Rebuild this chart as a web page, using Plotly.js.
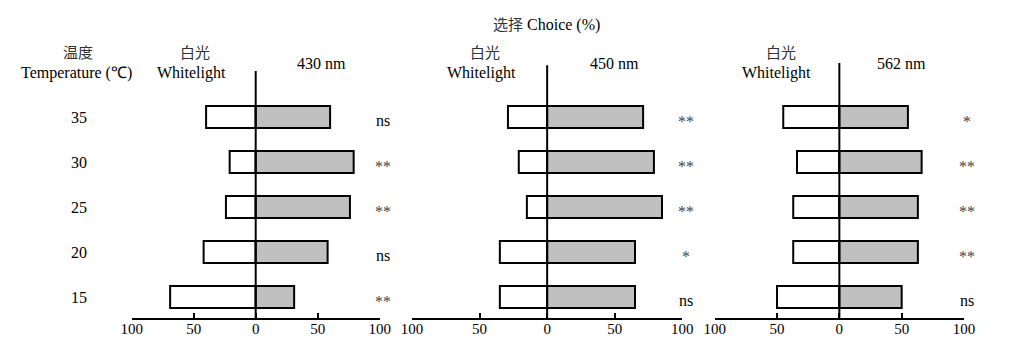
<!DOCTYPE html>
<html><head><meta charset="utf-8">
<script src="https://cdn.plot.ly/plotly-3.0.1.min.js"></script>
<style>html,body{margin:0;padding:0;background:#fff}</style>
</head><body><div id="chart" style="width:1010px;height:363px"></div>
<script>
// ---- data ----
const temperatures = ["15", "20", "25", "30", "35"];
const white430 = [69, 42, 24, 21, 40];
const light430 = [31, 58, 76, 79, 60];
const sig430 = ["**", "ns", "**", "**", "ns"];
const white450 = [35, 35, 15, 21, 29];
const light450 = [65, 65, 85, 79, 71];
const sig450 = ["ns", "*", "**", "**", "**"];
const white562 = [50, 37, 37, 34, 45];
const light562 = [50, 63, 63, 66, 55];
const sig562 = ["ns", "**", "**", "**", "*"];
const tickVals = [-100, -50, 0, 50, 100];
const tickText = ["100", "50", "0", "50", "100"];
const panelLabels = ["430 nm", "450 nm", "562 nm"];
const whiteLabelCn = "白光";
const whiteLabelEn = "Whitelight";
const tempLabelCn = "温度";
const tempLabelEn = "Temperature (℃)";
const titleCn = "选择";
const titleEn = "Choice (%)";

const SERIF = "Liberation Serif";
const CJK = "Noto Sans CJK SC";
const panels = [
  {ax: "x", white: white430, light: light430, sig: sig430},
  {ax: "x2", white: white450, light: light450, sig: sig450},
  {ax: "x3", white: white562, light: light562, sig: sig562}
];
const domains = [[131.7/1010, 379.7/1010], [412/1010, 682.3/1010], [714.7/1010, 964/1010]];
const zeroTops = [5.02, 5.15, 5.2];
const yBottom = -0.4667;

const traces = [];
panels.forEach((p) => {
  traces.push({
    type: "bar", orientation: "h", xaxis: p.ax, yaxis: "y",
    y: temperatures, x: p.white.map(v => -v), width: 0.49,
    marker: {color: "#ffffff", line: {color: "#000", width: 2}},
    hoverinfo: "skip"
  });
  traces.push({
    type: "bar", orientation: "h", xaxis: p.ax, yaxis: "y",
    y: temperatures, x: p.light, width: 0.49,
    marker: {color: "#c0c0c0", line: {color: "#000", width: 2}},
    hoverinfo: "skip"
  });
});

function xAxis(i) {
  return {
    domain: domains[i], anchor: "y", range: [-100, 100], fixedrange: true,
    tickmode: "array", tickvals: tickVals, ticktext: tickText,
    ticks: "inside", ticklen: 5, tickwidth: 2, tickcolor: "#000",
    ticklabelstandoff: -4,
    showline: true, linewidth: 2, linecolor: "#000",
    showgrid: false, zeroline: false,
    tickfont: {family: SERIF, size: 15, color: "#000"}
  };
}

const annotations = [];
function txt(x, y, text, size, family, color) {
  annotations.push({xref: "paper", yref: "paper", x: x / 1010, y: (318 - y) / 255,
    text: text, showarrow: false, xanchor: "center", yanchor: "middle",
    font: {family: family, size: size, color: color || "#000"}});
}
txt(77.5, 51.5, tempLabelCn, 15, CJK, "#333");
txt(76.7, 73, tempLabelEn, 16, SERIF);
[[195, 191.7], [485, 481], [781, 776.7]].forEach((c) => {
  txt(c[0], 51.5, whiteLabelCn, 15, CJK, "#333");
  txt(c[1], 73, whiteLabelEn, 16, SERIF);
});
[321, 614, 901].forEach((x, i) => txt(x, 63, panelLabels[i], 16, SERIF));

panels.forEach((p) => {
  p.sig.forEach((s, i) => {
    const star = s.indexOf("*") >= 0;
    annotations.push({xref: p.ax + " domain", yref: "y", x: 1.012, y: i,
      text: s, showarrow: false, xanchor: "center", yanchor: "middle",
      yshift: star ? -4 : -3,
      font: {family: SERIF, size: 16, color: star ? "#444" : "#000"}});
  });
});

const shapes = panels.map((p, i) => ({
  type: "line", xref: p.ax, yref: "y", x0: 0, x1: 0, y0: yBottom, y1: zeroTops[i],
  line: {color: "#000", width: 2}, layer: "above"
}));

const layout = {
  width: 1010, height: 363,
  margin: {l: 0, r: 0, t: 63, b: 45, pad: 0},
  paper_bgcolor: "#fff", plot_bgcolor: "#fff",
  showlegend: false, barmode: "relative",
  title: {text: "<span style='font-family:" + CJK + ";font-size:15px;fill:#333'>" + titleCn + "</span> " + titleEn,
    x: 546.7 / 1010, xanchor: "center", y: 1 - 24 / 363, yanchor: "middle",
    font: {family: SERIF, size: 16, color: "#000"}},
  xaxis: xAxis(0), xaxis2: xAxis(1), xaxis3: xAxis(2),
  yaxis: {type: "category", categoryorder: "array", categoryarray: temperatures,
    range: [yBottom, 5.2], anchor: "free", position: 87 / 1010, fixedrange: true,
    showline: false, ticks: "", showgrid: false, zeroline: false,
    tickfont: {family: SERIF, size: 16, color: "#000"}},
  annotations: annotations, shapes: shapes
};

Plotly.newPlot("chart", traces, layout, {displayModeBar: false, staticPlot: true});
</script></body></html>
